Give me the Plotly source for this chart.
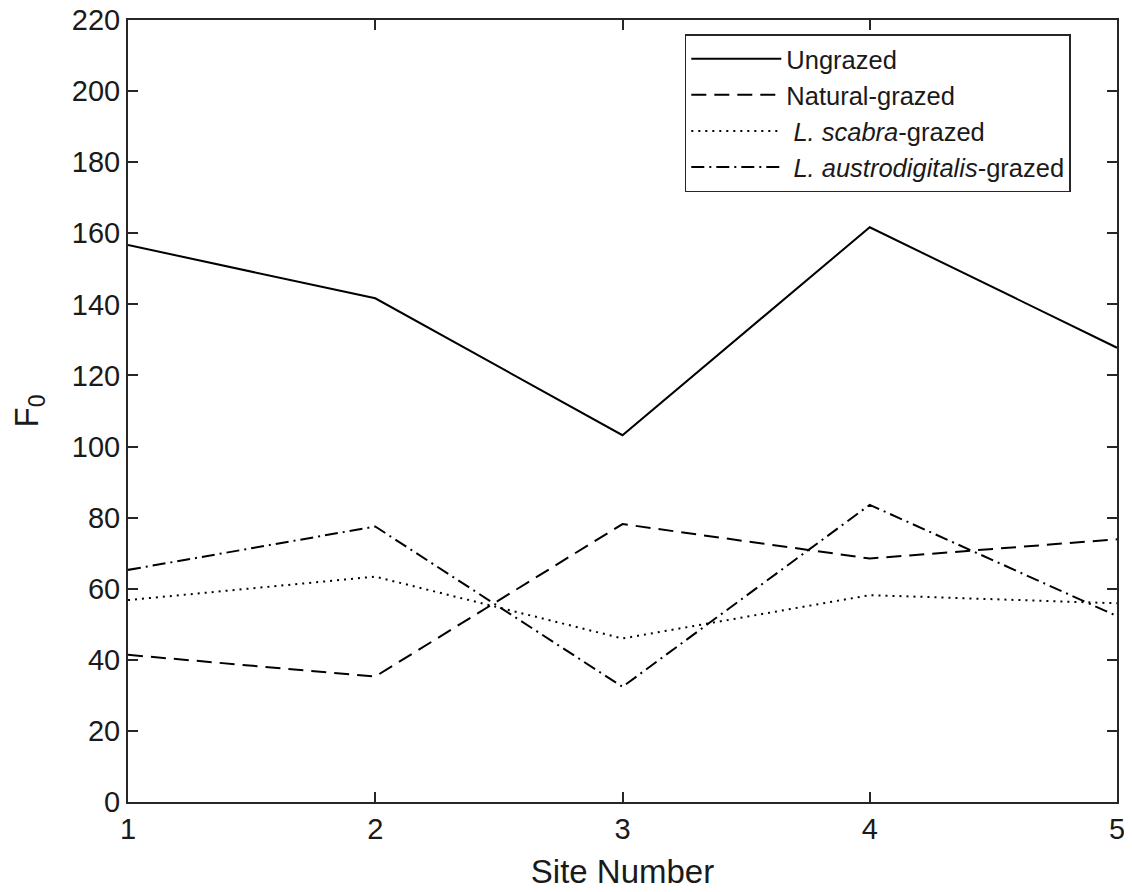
import plotly.graph_objects as go

sites = [1, 2, 3, 4, 5]
ungrazed = [156.7, 141.7, 103.2, 161.7, 127.8]
natural = [41.4, 35.3, 78.2, 68.5, 73.9]
scabra = [56.8, 63.4, 46.0, 58.2, 55.9]
austro = [65.3, 77.5, 32.4, 83.6, 52.3]

names = ["Ungrazed", "Natural-grazed", " <i>L. scabra</i>-grazed",
         " <i>L. austrodigitalis</i>-grazed"]
dashes = ["solid", "15px,8px", "2px,5px", "13px,5px,2px,5px"]
series = [ungrazed, natural, scabra, austro]

FONT = "Liberation Sans, Arial, Helvetica"

fig = go.Figure()
for nm, ys, d in zip(names, series, dashes):
    fig.add_trace(go.Scatter(x=sites, y=ys, mode="lines", name=nm,
                             line=dict(color="black", width=2, dash=d)))

axis_common = dict(showgrid=False, zeroline=False, showline=True, linecolor="#262626",
                   linewidth=2, mirror="ticks", ticks="inside", ticklen=10,
                   tickcolor="#262626", tickwidth=1.5, ticklabeloverflow="allow",
                   automargin=False,
                   tickfont=dict(family=FONT, size=29, color="#1a1a1a"))

fig.update_layout(
    width=1132, height=892,
    paper_bgcolor="white", plot_bgcolor="white",
    margin=dict(l=120, r=23, t=12, b=98),
    font=dict(family=FONT, size=26, color="#1a1a1a"),
    xaxis=dict(range=[1, 5], tickvals=[1, 2, 3, 4, 5],
               title=dict(text="Site Number", font=dict(size=33), standoff=16),
               **axis_common),
    yaxis=dict(range=[0, 220], tickvals=list(range(0, 221, 20)),
               title=dict(text="F<sub>0</sub>", font=dict(size=33), standoff=23),
               **axis_common),
    legend=dict(x=0.563, y=0.982, xanchor="left", yanchor="top",
                bordercolor="#262626", borderwidth=1.5, bgcolor="white",
                font=dict(size=25.5, family=FONT), itemwidth=90, tracegroupgap=0),
    showlegend=True,
)

fig.write_html("out.html")
